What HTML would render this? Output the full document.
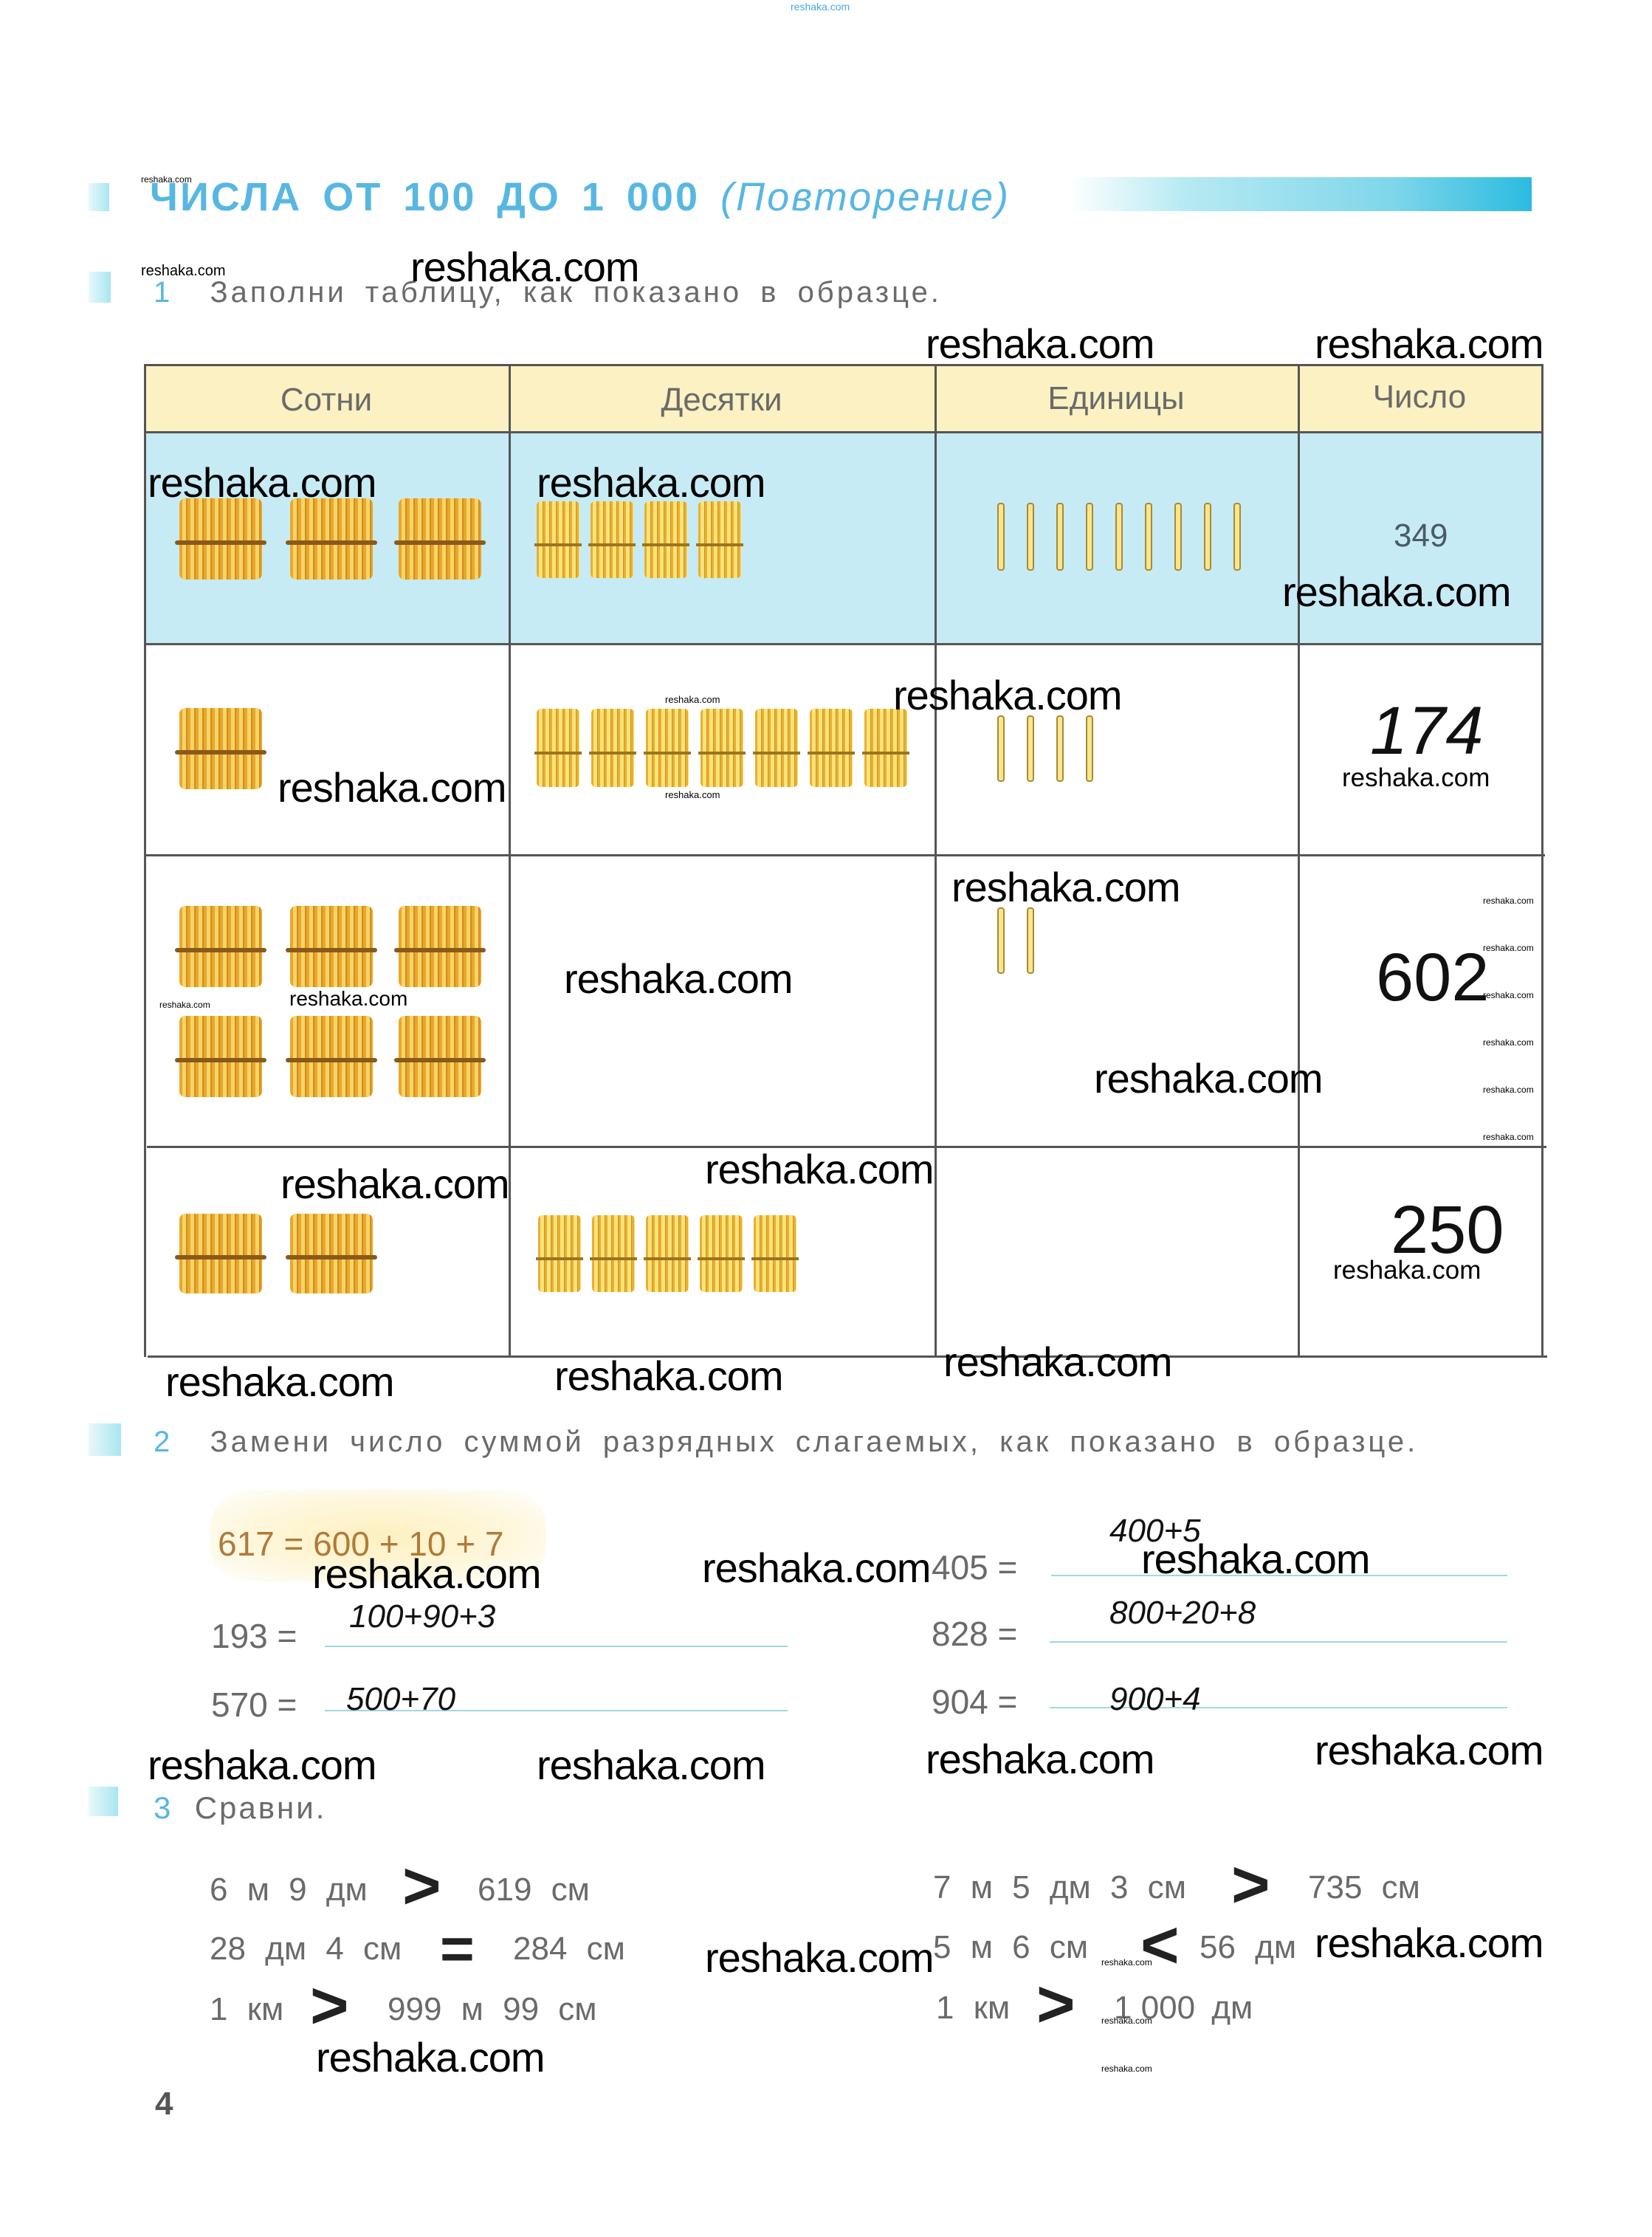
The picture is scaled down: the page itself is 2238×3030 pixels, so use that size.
<!DOCTYPE html>
<html><head><meta charset="utf-8">
<style>
html,body{margin:0;padding:0;}
body{width:2238px;height:3030px;position:relative;background:#fff;overflow:hidden;font-family:"Liberation Sans Narrow","Liberation Sans","DejaVu Sans",sans-serif;}
.a{position:absolute;white-space:nowrap;line-height:1;}
.w{position:absolute;white-space:nowrap;line-height:1;font-family:"Liberation Sans",sans-serif;font-size:56px;color:#000;letter-spacing:-1px;z-index:5;}
.ws{position:absolute;white-space:nowrap;line-height:1;font-family:"Liberation Sans",sans-serif;color:#000;z-index:5;}
.g{color:#6a6a6a;}
.hl{position:absolute;background:#555;height:3px;}
.vl{position:absolute;background:#555;width:3px;}
.ln{position:absolute;height:2px;background:#9fd8e0;}
.hw{font-family:"Liberation Sans Narrow","Liberation Sans",sans-serif;font-style:italic;color:#111;}
.b{position:absolute;border-radius:8px;background:repeating-linear-gradient(90deg,#e9a72a 0 4px,#f7d46a 4px 9px,#d28d1a 9px 11px);}
.b:after{content:"";position:absolute;left:-6px;right:-6px;top:52%;height:6px;background:#8a5a1a;border-radius:3px;}
.t{position:absolute;border-radius:6px;background:repeating-linear-gradient(90deg,#e8b02e 0 3px,#fbe27a 3px 8px,#c9941f 8px 9px);}
.t:after{content:"";position:absolute;left:-3px;right:-3px;top:55%;height:4px;background:#9c7420;}
.s{position:absolute;width:10px;border:2px solid #a68a3a;background:#fbe58a;border-radius:4px;box-sizing:border-box;}
.big{font-family:"Liberation Sans Narrow","Liberation Sans",sans-serif;color:#111;}
.cmp{font-family:"Liberation Sans",sans-serif;font-weight:bold;color:#222;}
.task{letter-spacing:4px;word-spacing:10px;}
</style></head><body>

<div class="ws" style="left:1071px;top:2px;font-size:14px;color:#4aa8e0;">reshaka.com</div>

<div style="position:absolute;left:120px;top:248px;width:28px;height:38px;background:linear-gradient(90deg,#e8f8fb,#a9e6f0);"></div>
<div style="position:absolute;left:1447px;top:240px;width:628px;height:46px;background:linear-gradient(90deg,#fff,#b7eaf3 25%,#7fd6ea 70%,#2bbbe0);"></div>
<div class="a" style="left:203px;top:240px;font-size:54px;color:#57b7e3;font-weight:bold;letter-spacing:3px;word-spacing:10px;">ЧИСЛА ОТ 100 ДО 1 000 <i style="font-weight:normal">(Повторение)</i></div>
<div class="ws" style="left:191px;top:237px;font-size:12px;">reshaka.com</div>

<div style="position:absolute;left:120px;top:368px;width:30px;height:42px;background:linear-gradient(90deg,#e8f8fb,#a9e6f0);"></div>
<div class="ws" style="left:191px;top:357px;font-size:20px;">reshaka.com</div>
<div class="a g task" style="left:208px;top:376px;font-size:40px;"><span style="color:#57b7e3">1</span>&nbsp; Заполни таблицу, как показано в образце.</div>

<div style="position:absolute;left:195px;top:494px;width:1893px;height:91px;background:#fbf1c2;"></div>
<div style="position:absolute;left:195px;top:585px;width:1893px;height:287px;background:#c6ebf4;"></div>
<div class="hl" style="left:195px;top:493px;width:1896px;"></div>
<div class="hl" style="left:195px;top:584px;width:1896px;"></div>
<div class="hl" style="left:195px;top:871px;width:1896px;"></div>
<div class="hl" style="left:197px;top:1157px;width:1896px;"></div>
<div class="hl" style="left:199px;top:1552px;width:1896px;"></div>
<div class="hl" style="left:200px;top:1836px;width:1896px;"></div>
<div class="vl" style="left:195px;top:494px;height:1344px;"></div>
<div class="vl" style="left:689px;top:494px;height:1344px;"></div>
<div class="vl" style="left:1266px;top:494px;height:1344px;"></div>
<div class="vl" style="left:1758px;top:494px;height:1344px;"></div>
<div class="vl" style="left:2088px;top:494px;height:1344px;"></div>

<div class="a g" style="left:195px;width:494px;text-align:center;top:520px;font-size:44px;">Сотни</div>
<div class="a g" style="left:689px;width:577px;text-align:center;top:520px;font-size:44px;">Десятки</div>
<div class="a g" style="left:1266px;width:492px;text-align:center;top:518px;font-size:44px;">Единицы</div>
<div class="a g" style="left:1758px;width:330px;text-align:center;top:516px;font-size:44px;">Число</div>

<div id="pics"></div>

<div class="a" style="left:1888px;top:704px;font-size:44px;color:#4a5a66;">349</div>
<div class="a big" style="left:1856px;top:944px;font-size:92px;font-style:italic;">174</div>
<div class="a big" style="left:1864px;top:1278px;font-size:92px;">602</div>
<div class="a big" style="left:1884px;top:1620px;font-size:92px;">250</div>

<div class="w" style="left:556px;top:334px;">reshaka.com</div>
<div class="w" style="left:1254px;top:438px;">reshaka.com</div>
<div class="w" style="left:1781px;top:438px;">reshaka.com</div>
<div class="w" style="left:200px;top:626px;">reshaka.com</div>
<div class="w" style="left:727px;top:626px;">reshaka.com</div>
<div class="w" style="left:1737px;top:774px;">reshaka.com</div>
<div class="w" style="left:1210px;top:914px;">reshaka.com</div>
<div class="w" style="left:376px;top:1039px;">reshaka.com</div>
<div class="w" style="left:1289px;top:1174px;">reshaka.com</div>
<div class="w" style="left:764px;top:1298px;">reshaka.com</div>
<div class="w" style="left:1482px;top:1433px;">reshaka.com</div>
<div class="w" style="left:380px;top:1576px;">reshaka.com</div>
<div class="w" style="left:955px;top:1556px;">reshaka.com</div>
<div class="w" style="left:224px;top:1844px;">reshaka.com</div>
<div class="w" style="left:751px;top:1836px;">reshaka.com</div>
<div class="w" style="left:1278px;top:1817px;">reshaka.com</div>
<div class="w" style="left:423px;top:2104px;">reshaka.com</div>
<div class="w" style="left:951px;top:2096px;">reshaka.com</div>
<div class="w" style="left:1546px;top:2084px;">reshaka.com</div>
<div class="w" style="left:200px;top:2363px;">reshaka.com</div>
<div class="w" style="left:727px;top:2363px;">reshaka.com</div>
<div class="w" style="left:1254px;top:2355px;">reshaka.com</div>
<div class="w" style="left:1781px;top:2343px;">reshaka.com</div>
<div class="w" style="left:955px;top:2624px;">reshaka.com</div>
<div class="w" style="left:1781px;top:2604px;">reshaka.com</div>
<div class="w" style="left:428px;top:2759px;">reshaka.com</div>
<div class="ws" style="left:1818px;top:1036px;font-size:35px;">reshaka.com</div>
<div class="ws" style="left:1806px;top:1703px;font-size:35px;">reshaka.com</div>
<div class="ws" style="left:392px;top:1339px;font-size:28px;">reshaka.com</div>
<div class="ws" style="left:901px;top:941px;font-size:13px;">reshaka.com</div>
<div class="ws" style="left:901px;top:1070px;font-size:13px;">reshaka.com</div>
<div class="ws" style="left:216px;top:1355px;font-size:12px;">reshaka.com</div>
<div class="ws" style="left:2009px;top:1214px;font-size:12px;">reshaka.com</div>
<div class="ws" style="left:2009px;top:1278px;font-size:12px;">reshaka.com</div>
<div class="ws" style="left:2009px;top:1342px;font-size:12px;">reshaka.com</div>
<div class="ws" style="left:2009px;top:1406px;font-size:12px;">reshaka.com</div>
<div class="ws" style="left:2009px;top:1470px;font-size:12px;">reshaka.com</div>
<div class="ws" style="left:2009px;top:1534px;font-size:12px;">reshaka.com</div>
<div class="ws" style="left:1492px;top:2652px;font-size:12px;">reshaka.com</div>
<div class="ws" style="left:1492px;top:2731px;font-size:12px;">reshaka.com</div>
<div class="ws" style="left:1492px;top:2796px;font-size:12px;">reshaka.com</div>

<div style="position:absolute;left:120px;top:1928px;width:44px;height:44px;background:linear-gradient(90deg,#e8f8fb,#a9e6f0);"></div>
<div class="a g task" style="left:208px;top:1933px;font-size:40px;"><span style="color:#57b7e3">2</span>&nbsp; Замени число суммой разрядных слагаемых, как показано в образце.</div>
<div style="position:absolute;left:285px;top:2018px;width:455px;height:125px;background:radial-gradient(ellipse at center,#fdf0c0 0%,#fef7dc 55%,#fff 100%);border-radius:50px;"></div>
<div class="a" style="left:295px;top:2068px;font-size:46px;color:#b07a3a;">617 = 600 + 10 + 7</div>

<div class="a g" style="left:286px;top:2193px;font-size:46px;">193 =</div>
<div class="ln" style="left:440px;top:2229px;width:627px;"></div>
<div class="a hw" style="left:473px;top:2168px;font-size:44px;">100+90+3</div>
<div class="a g" style="left:286px;top:2286px;font-size:46px;">570 =</div>
<div class="ln" style="left:440px;top:2316px;width:627px;"></div>
<div class="a hw" style="left:469px;top:2280px;font-size:44px;">500+70</div>

<div class="a g" style="left:1262px;top:2100px;font-size:46px;">405 =</div>
<div class="ln" style="left:1424px;top:2133px;width:618px;"></div>
<div class="a hw" style="left:1503px;top:2052px;font-size:44px;">400+5</div>
<div class="a g" style="left:1262px;top:2190px;font-size:46px;">828 =</div>
<div class="ln" style="left:1422px;top:2223px;width:620px;"></div>
<div class="a hw" style="left:1503px;top:2163px;font-size:44px;">800+20+8</div>
<div class="a g" style="left:1262px;top:2282px;font-size:46px;">904 =</div>
<div class="ln" style="left:1422px;top:2312px;width:620px;"></div>
<div class="a hw" style="left:1503px;top:2280px;font-size:44px;">900+4</div>

<div style="position:absolute;left:120px;top:2420px;width:40px;height:40px;background:linear-gradient(90deg,#e8f8fb,#a9e6f0);"></div>
<div class="a g" style="left:208px;top:2428px;font-size:42px;letter-spacing:3px;"><span style="color:#57b7e3">3</span>&nbsp; Сравни.</div>

<div class="a g" style="left:284px;top:2538px;font-size:44px;word-spacing:14px;">6 м 9 дм</div>
<div class="a cmp" style="left:545px;top:2510px;font-size:90px;">&gt;</div>
<div class="a g" style="left:647px;top:2538px;font-size:44px;word-spacing:14px;">619 см</div>
<div class="a g" style="left:284px;top:2618px;font-size:44px;word-spacing:14px;">28 дм 4 см</div>
<div class="a cmp" style="left:596px;top:2600px;font-size:80px;">=</div>
<div class="a g" style="left:695px;top:2618px;font-size:44px;word-spacing:14px;">284 см</div>
<div class="a g" style="left:284px;top:2700px;font-size:44px;word-spacing:14px;">1 км</div>
<div class="a cmp" style="left:420px;top:2672px;font-size:90px;">&gt;</div>
<div class="a g" style="left:525px;top:2700px;font-size:44px;word-spacing:14px;">999 м 99 см</div>

<div class="a g" style="left:1264px;top:2535px;font-size:44px;word-spacing:14px;">7 м 5 дм 3 см</div>
<div class="a cmp" style="left:1668px;top:2508px;font-size:90px;">&gt;</div>
<div class="a g" style="left:1772px;top:2535px;font-size:44px;word-spacing:14px;">735 см</div>
<div class="a g" style="left:1264px;top:2616px;font-size:44px;word-spacing:14px;">5 м 6 см</div>
<div class="a cmp" style="left:1545px;top:2590px;font-size:90px;">&lt;</div>
<div class="a g" style="left:1625px;top:2616px;font-size:44px;word-spacing:14px;">56 дм</div>
<div class="a g" style="left:1268px;top:2698px;font-size:44px;word-spacing:14px;">1 км</div>
<div class="a cmp" style="left:1404px;top:2670px;font-size:90px;">&gt;</div>
<div class="a g" style="left:1509px;top:2698px;font-size:44px;">1 000 <span style="margin-left:10px">дм</span></div>

<div class="a" style="left:210px;top:2828px;font-size:44px;font-weight:bold;color:#555;">4</div>

<script>
var p=document.getElementById('pics'),h='';
function B(x,y,w,hh){h+='<div class="b" style="left:'+x+'px;top:'+y+'px;width:'+w+'px;height:'+hh+'px"></div>';}
function T(x,y,w,hh){h+='<div class="t" style="left:'+x+'px;top:'+y+'px;width:'+w+'px;height:'+hh+'px"></div>';}
function S(x,y,hh){h+='<div class="s" style="left:'+x+'px;top:'+y+'px;height:'+hh+'px"></div>';}
var hx=[243,393,540];
hx.forEach(function(x){B(x,675,112,110);});
for(var i=0;i<4;i++)T(727+i*73,679,58,104);
for(var i=0;i<9;i++)S(1351+i*40,681,92);
B(243,959,112,110);
for(var i=0;i<7;i++)T(727+i*74,960,58,106);
for(var i=0;i<4;i++)S(1351+i*40,969,90);
hx.forEach(function(x){B(x,1227,112,110);B(x,1376,112,110);});
for(var i=0;i<2;i++)S(1351+i*40,1229,90);
B(243,1644,112,108);B(393,1644,112,108);
for(var i=0;i<5;i++)T(729+i*73,1646,58,104);
p.innerHTML=h;
</script>
</body></html>
